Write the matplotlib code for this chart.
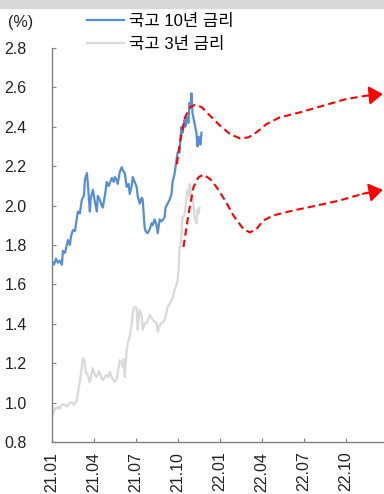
import matplotlib
matplotlib.use("Agg")
import matplotlib.pyplot as plt
from matplotlib.patches import Rectangle

plt.rcParams['font.family'] = ['Liberation Sans', 'Noto Sans CJK KR', 'DejaVu Sans']

# x = months since 2021-01
ktb10_m = [0.00, 0.16, 0.31, 0.45, 0.59, 0.73, 0.80, 0.95, 1.16, 1.30, 1.37, 1.51, 1.66, 1.80, 1.87,
           2.01, 2.15, 2.30, 2.37, 2.51, 2.58, 2.72, 2.79, 2.94, 3.08, 3.22, 3.29, 3.43, 3.57, 3.65,
           3.79, 3.93, 4.07, 4.29, 4.43, 4.50, 4.64, 4.71, 4.85, 5.00, 5.07, 5.21, 5.35, 5.49, 5.56,
           5.71, 5.78, 5.92, 6.06, 6.13, 6.28, 6.42, 6.49, 6.63, 6.70, 6.84, 6.99, 7.13, 7.20, 7.34,
           7.48, 7.56, 7.70, 7.84, 8.05, 8.12, 8.27, 8.41, 8.55, 8.62, 8.76, 8.90, 8.98, 9.12, 9.19,
           9.26, 9.33, 9.47, 9.54, 9.68, 9.75, 9.83, 9.90, 9.97, 10.04, 10.18, 10.32, 10.40, 10.47,
           10.54, 10.61, 10.68]
ktb10 = [1.72, 1.70, 1.73, 1.71, 1.72, 1.70, 1.77, 1.76, 1.825, 1.80, 1.84, 1.876, 1.87, 1.94, 1.97,
         1.96, 2.03, 2.05, 2.13, 2.165, 2.11, 1.97, 2.04, 2.08, 2.02, 1.97, 2.05, 2.03, 2.00, 1.99,
         2.05, 2.12, 2.10, 2.14, 2.12, 2.145, 2.13, 2.11, 2.17, 2.195, 2.18, 2.165, 2.095, 2.11, 2.06,
         2.10, 2.145, 2.12, 2.095, 2.05, 2.01, 2.04, 2.03, 1.89, 1.87, 1.86, 1.88, 1.91, 1.90, 1.93,
         1.90, 1.86, 1.93, 1.92, 1.94, 1.99, 2.01, 2.03, 2.06, 2.12, 2.16, 2.23, 2.27, 2.27, 2.35,
         2.40, 2.37, 2.435, 2.40, 2.45, 2.42, 2.52, 2.50, 2.57, 2.47, 2.42, 2.37, 2.30, 2.35,
         2.33, 2.31, 2.37]

ktb3_m = [0.00, 0.09, 0.23, 0.38, 0.45, 0.59, 0.73, 0.95, 1.09, 1.30, 1.44, 1.58, 1.80, 1.87, 2.01,
          2.15, 2.22, 2.30, 2.37, 2.44, 2.51, 2.65, 2.72, 2.86, 2.94, 3.08, 3.22, 3.36, 3.43, 3.57,
          3.65, 3.79, 3.93, 4.07, 4.14, 4.29, 4.43, 4.50, 4.64, 4.71, 4.85, 5.00, 5.07, 5.14, 5.21,
          5.35, 5.42, 5.56, 5.71, 5.78, 5.85, 5.92, 6.06, 6.13, 6.20, 6.28, 6.42, 6.49, 6.63, 6.77,
          6.92, 6.99, 7.13, 7.20, 7.34, 7.48, 7.56, 7.70, 7.84, 7.98, 8.05, 8.20, 8.27, 8.41, 8.55,
          8.69, 8.76, 8.90, 8.98, 9.05, 9.12, 9.19, 9.26, 9.33, 9.47, 9.61, 9.68, 9.75, 9.83, 9.90,
          9.97, 10.04, 10.11, 10.18, 10.25, 10.32, 10.40, 10.47, 10.54]
ktb3 = [0.96, 0.94, 0.97, 0.97, 0.98, 0.97, 0.99, 0.99, 0.98, 1.00, 1.00, 0.99, 1.01, 1.05, 1.11,
        1.18, 1.225, 1.22, 1.20, 1.15, 1.15, 1.12, 1.105, 1.15, 1.175, 1.14, 1.13, 1.16, 1.15, 1.12,
        1.115, 1.13, 1.14, 1.13, 1.155, 1.13, 1.11, 1.105, 1.12, 1.15, 1.215, 1.20, 1.18, 1.22, 1.13,
        1.27, 1.30, 1.335, 1.40, 1.455, 1.48, 1.485, 1.48, 1.37, 1.42, 1.47, 1.44, 1.37, 1.40, 1.405,
        1.43, 1.445, 1.43, 1.42, 1.41, 1.405, 1.36, 1.39, 1.405, 1.41, 1.42, 1.46, 1.485, 1.50, 1.52,
        1.55, 1.57, 1.60, 1.62, 1.67, 1.79, 1.80, 1.86, 1.94, 1.95, 2.03, 2.08, 2.05, 2.11, 2.09,
        2.03, 2.045, 2.00, 1.94, 1.93, 1.91, 1.98, 1.96, 1.99]

# hand-drawn forecast paths
up_m = [8.93, 9.17, 9.52, 9.88, 10.23, 10.70, 11.30, 12.01, 12.72, 13.43, 14.02, 14.61, 15.32,
        16.27, 17.70, 19.35, 21.01, 22.43, 23.62]
up_v = [2.21, 2.33, 2.45, 2.50, 2.512, 2.50, 2.456, 2.406, 2.363, 2.341, 2.346, 2.372, 2.414,
        2.448, 2.473, 2.507, 2.541, 2.558, 2.566]
lo_m = [9.40, 9.76, 10.11, 10.47, 10.82, 11.30, 11.77, 12.37, 12.96, 13.67, 14.14, 14.61, 15.09,
        15.80, 17.22, 18.88, 20.54, 22.20, 23.62]
lo_v = [1.79, 1.957, 2.093, 2.144, 2.157, 2.135, 2.093, 2.026, 1.95, 1.881, 1.864, 1.881, 1.924,
        1.95, 1.975, 2.0, 2.026, 2.06, 2.08]

tick_m = [0, 3, 6, 9, 12, 15, 18, 21]
tick_lbl = ['21.01', '21.04', '21.07', '21.10', '22.01', '22.04', '22.07', '22.10']
yticks = [0.8, 1.0, 1.2, 1.4, 1.6, 1.8, 2.0, 2.2, 2.4, 2.6, 2.8]

fig = plt.figure(figsize=(3.84, 4.94), dpi=100)
fig.patches.append(Rectangle((0, 1 - 8 / 494), 1, 8 / 494, transform=fig.transFigure,
                             color='#d9d9d9', zorder=0))
ax = fig.add_axes([0.1346, 0.1053, 1 - 0.1346, 0.7975])

ax.plot(ktb3_m, ktb3, color='#d9d9d9', lw=1.6, label='국고 3년 금리', zorder=2)
ax.plot(ktb10_m, ktb10, color='#558ed5', lw=1.6, label='국고 10년 금리', zorder=3)

for xs, ys in [(up_m, up_v), (lo_m, lo_v)]:
    ax.plot(xs[:-1], ys[:-1], color='red', lw=1.5, ls=(0, (3.5, 2)), zorder=4)
    ax.annotate('', xy=(xs[-1], ys[-1]), xytext=(xs[-2], ys[-2]), annotation_clip=False,
                arrowprops=dict(arrowstyle='-|>,head_length=0.55,head_width=0.37',
                                mutation_scale=15, color='red', lw=1.5, shrinkA=0, shrinkB=0),
                zorder=5)

ax.set_xlim(0, 23.7)
ax.set_ylim(0.8, 2.8)
ax.set_xticks(tick_m)
ax.set_xticklabels(tick_lbl, rotation=90)
ax.set_yticks(yticks)
ax.set_yticklabels(['%.1f' % v for v in yticks])
for s in ['top', 'right']:
    ax.spines[s].set_visible(False)
for s in ['left', 'bottom']:
    ax.spines[s].set_color('#808080')
    ax.spines[s].set_linewidth(1.0)
ax.tick_params(axis='both', direction='in', length=3, color='#808080', labelsize=11.5,
               labelcolor='#222222')
ax.tick_params(axis='y', pad=18)
ax.tick_params(axis='x', pad=7)

fig.text(33 / 384, 1 - 22 / 494, '(%)', ha='right', va='center', fontsize=11.5, color='#222222')

h, l = ax.get_legend_handles_labels()
ax.legend(h[::-1], l[::-1], loc='upper left', bbox_to_anchor=(87 / 384, 1 - 14 / 494),
          bbox_transform=fig.transFigure, frameon=False, fontsize=12, borderpad=0,
          borderaxespad=0, handlelength=2.2, handletextpad=0.3, labelspacing=0.5)

fig.savefig('out.png', dpi=100)
